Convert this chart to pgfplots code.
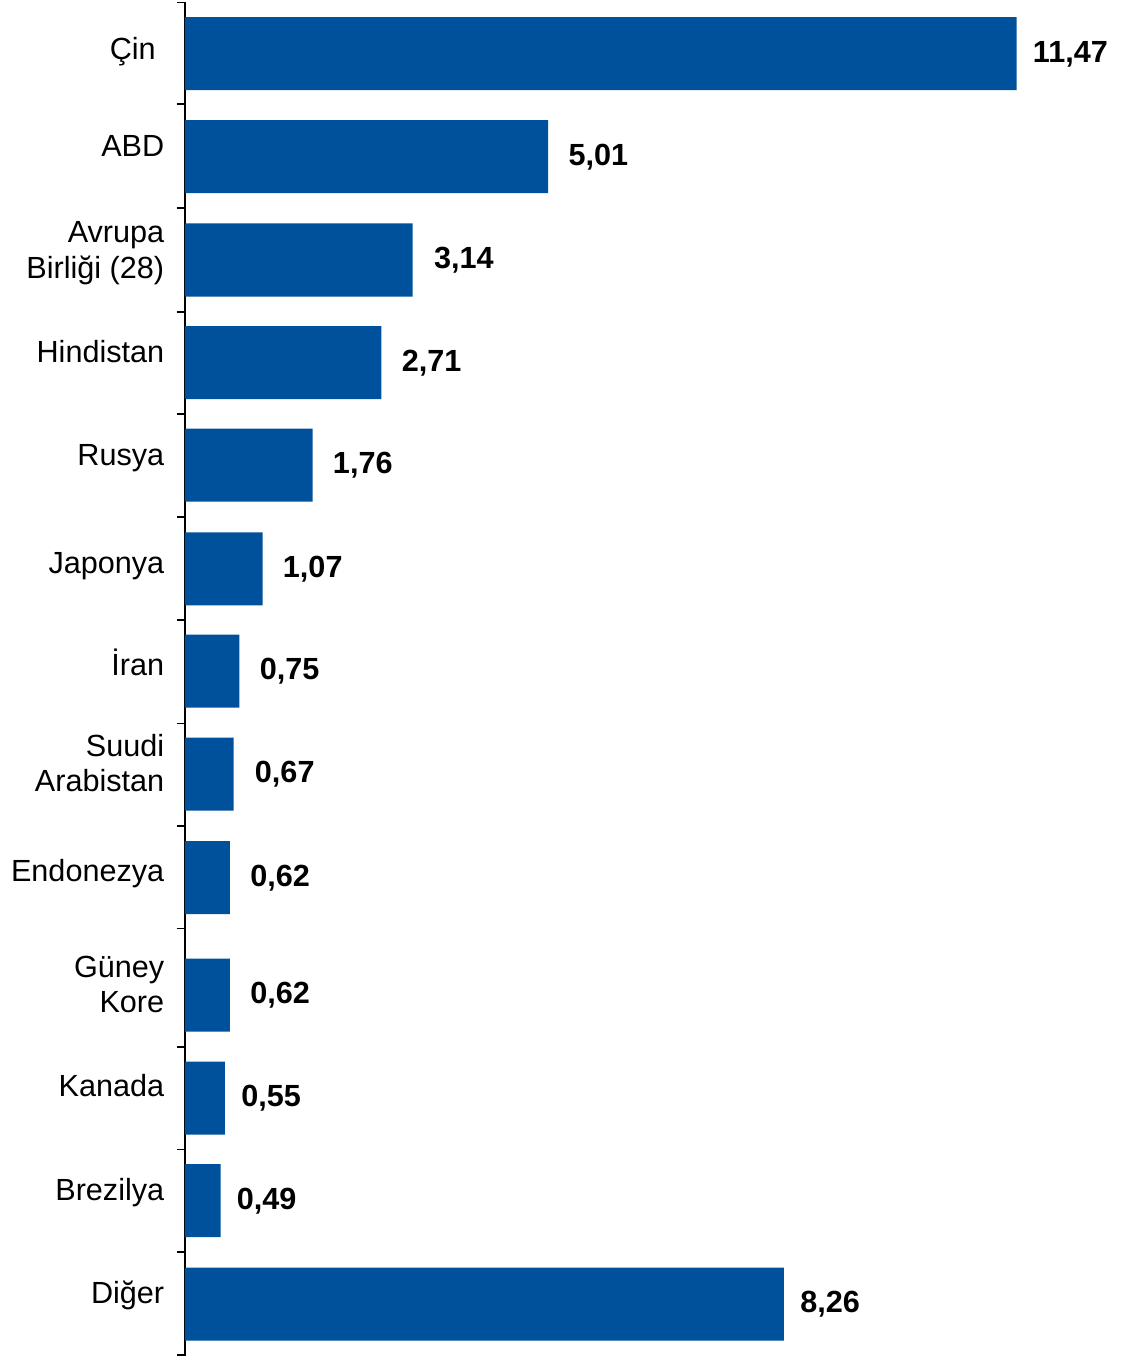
\documentclass[border=0pt]{standalone}
\usepackage{pgfplots}
\pgfplotsset{compat=1.18}
\usepackage{fontspec}
\setmainfont{Liberation Sans}
\definecolor{barblue}{RGB}{0,81,155}
\begin{document}
\begin{tikzpicture}
\begin{axis}[
  at={(0,0)}, anchor=south west,
  scale only axis,
  width=464pt, height=676.5pt,
  xmin=0, xmax=12.8,
  ymin=2.5, ymax=1355.5,
  y dir=reverse,
  axis x line=none,
  axis y line*=left,
  y axis line style={-, line width=0.8pt},
  xbar, bar width=73,
  ytick={60,156.7,278.3,362.3,465,573.3,675,791.7,881.7,1012.7,1096.7,1200,1303.3},
  yticklabels={{Çin\ },ABD,{Avrupa\ \\Birliği (28)},Hindistan,Rusya,Japonya,İran,{Suudi\ \\Arabistan},Endonezya,{Güney\ \\Kore},Kanada,Brezilya,Diğer},
  major tick length=0pt,
  minor ytick={2.7,104.3,208.3,311.7,414,516.7,620,723.3,826,928.3,1046.7,1149.5,1251.7,1355},
  minor tick length=4pt,
  tick align=outside,
  tick style={line width=0.8pt, black},
  yticklabel style={align=right, anchor=base east, inner sep=0pt, xshift=-10.2pt, font=\fontsize{15.3}{17.8}\selectfont},
  /pgf/number format/assume math mode=true,
  visualization depends on={\thisrow{dx} \as \dx},
  nodes near coords={\pgfmathprintnumber[fixed,precision=2,fixed zerofill,use comma]{\pgfplotspointmeta}},
  nodes near coords style={anchor=base west, inner sep=0pt, xshift=\dx pt, yshift=-4.3pt, font=\fontsize{15.3}{17.8}\selectfont\bfseries},
  point meta=explicit,
]
\addplot[fill=barblue, draw=none] table[x=x, y=y, meta=m] {
x y m dx
11.47 53.7 11.47 8
5.01 156.7 5.01 10
3.14 260 3.14 10.5
2.71 362.7 2.71 10
1.76 465 1.76 10
1.07 568.8 1.07 10
0.75 671.2 0.75 10
0.67 774.2 0.67 10.5
0.62 877.5 0.62 10
0.62 995 0.62 10
0.55 1098 0.55 8
0.49 1200.7 0.49 8
8.26 1304.2 8.26 8
};
\end{axis}
\pgfresetboundingbox
\path (-92.5pt,-1.25pt) rectangle (468pt,677.75pt);
\end{tikzpicture}
\end{document}
